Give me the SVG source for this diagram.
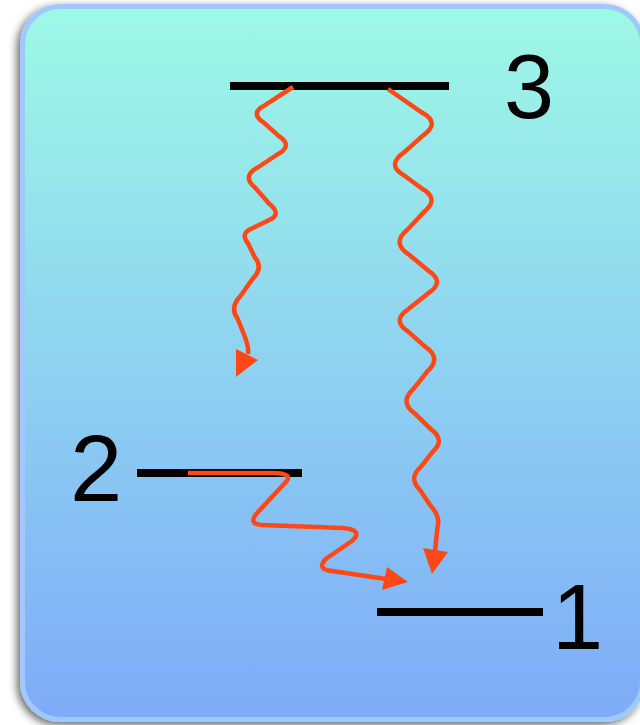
<svg xmlns="http://www.w3.org/2000/svg" width="640" height="725" viewBox="0 0 640 725">
  <defs>
    <linearGradient id="bg" x1="0" y1="0" x2="0" y2="1">
      <stop offset="0" stop-color="#9ef9e6"/>
      <stop offset="0.6" stop-color="#8bcaf2"/>
      <stop offset="1" stop-color="#7eabf8"/>
    </linearGradient>
    <filter id="shadow" x="-10%" y="-10%" width="120%" height="120%">
      <feDropShadow dx="-3" dy="3" stdDeviation="4" flood-color="#000" flood-opacity="0.6"/>
    </filter>
    <style>
      .level { stroke: #000; stroke-width: 8; fill: none; }
      .wave { stroke: #ff4816; stroke-width: 4.5; fill: none; stroke-linecap: butt; stroke-linejoin: round; }
      .head { fill: #ff4816; }
      .label { font-family: "Liberation Sans", Arial, Helvetica, sans-serif; fill: #000; }
    </style>
  </defs>

  <rect id="panel" x="22.5" y="6.5" width="620" height="713" rx="38" ry="38" fill="url(#bg)" stroke="#a0c8fa" stroke-width="5" filter="url(#shadow)"/>

  <g id="level3">
    <line class="level" x1="230" y1="86" x2="449" y2="86"/>
    <text class="label" x="504" y="118" font-size="90">3</text>
  </g>
  <g id="level2">
    <line class="level" x1="137" y1="473" x2="302" y2="473"/>
    <text class="label" x="70" y="501" font-size="94">2</text>
  </g>
  <g id="level1">
    <line class="level" x1="377" y1="612" x2="543" y2="612"/>
    <text class="label" x="552" y="649" font-size="92">1</text>
  </g>

  <g id="connectors">
    <path class="wave" d="M293,87 L265,105.2 Q249,113 264.1,122.9 L278.9,136.1 Q294,146 276.5,155 L258.5,167 Q241,176 255.2,187.7 L268.8,203.3 Q283,215 268.2,220.4 L253.8,227.6 Q239,233 248.1,243.5 L254.9,257.5 Q264,268 251.9,279.7 L241.1,295.3 Q229,307 237.8,319 L244.2,335 Q249,347 248,354"/>
    <polygon class="head" points="236,349 258,360 236,377"/>

    <path class="wave" d="M388,89 L422.3,112.8 Q441,123 422.9,135.6 L404.1,152.4 Q386,165 403.8,175.2 L422.2,188.8 Q440,199 423.7,212.2 L407.3,229.8 Q391,243 409.1,254.7 L427.9,270.3 Q446,282 427.9,293.4 L409.1,308.6 Q391,320 407.9,331.4 L425.1,346.6 Q442,358 427.5,371.2 L413.5,388.8 Q399,402 414.7,413.4 L430.3,428.6 Q446,440 433,451.4 L421,466.6 Q408,478 419.8,489.7 L430.2,505.3 Q441,517 437.4,527.5 L435,552"/>
    <polygon class="head" points="423,548 448,552 432,574"/>

    <path class="wave" d="M188,473 L272,473 Q296,473 284,484 L258,512 Q247,524 262,525 L343,528 Q364,530 352,541 L327,558 Q315,569 332,571 L386,579"/>
    <polygon class="head" points="387,567 408,582 382,590"/>
  </g>
</svg>
